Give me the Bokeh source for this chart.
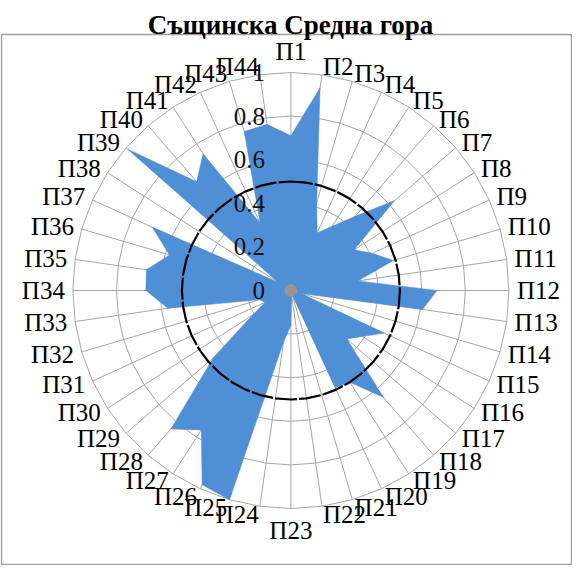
import numpy as np
from bokeh.plotting import figure
from bokeh.models import Range1d
from bokeh.core.properties import value
from bokeh.embed import file_html
from bokeh.resources import INLINE

# ---------------- data ----------------
title_text = "Същинска Средна гора"
categories = ["П1", "П2", "П3", "П4", "П5", "П6", "П7", "П8", "П9", "П10",
              "П11", "П12", "П13", "П14", "П15", "П16", "П17", "П18", "П19", "П20",
              "П21", "П22", "П23", "П24", "П25", "П26", "П27", "П28", "П29", "П30",
              "П31", "П32", "П33", "П34", "П35", "П36", "П37", "П38", "П39", "П40",
              "П41", "П42", "П43", "П44"]
values = [0.71, 0.94, 0.42, 0.29, 0.35, 0.45, 0.63, 0.345, 0.41, 0.49,
          0.31, 0.67, 0.61, 0.05, 0.47, 0.39, 0.34, 0.65, 0.50, 0.49,
          0.02, 0.02, 0.16, 0.24, 1.00, 0.98, 0.76, 0.84, 0.47, 0.21,
          0.13, 0.15, 0.57, 0.665, 0.67, 0.58, 0.70, 0.07, 0.99, 0.66,
          0.745, 0.34, 0.76, 0.77]
threshold = 0.5
ring_ticks = [0.2, 0.4, 0.6, 0.8, 1.0]
tick_labels = ["0", "0.2", "0.4", "0.6", "0.8", "1"]
tick_values = [0.0, 0.2, 0.4, 0.6, 0.8, 1.0]

# ---------------- layout ----------------
W, H = 572, 565
SCALE = 218.0            # pixels per unit radius
CX, CY = 290.4, 290.0    # centre in canvas pixels
x0 = -CX / SCALE
x1 = (W - CX) / SCALE
y1 = CY / SCALE
y0 = -(H - CY) / SCALE


def px_x(px):
    return x0 + px / SCALE


def px_y(py):
    return y1 - py / SCALE


N = len(categories)
theta = np.arange(N) * 2 * np.pi / N
S = np.sin(theta)
C = np.cos(theta)

FONT = value("Liberation Serif")
GRID = "#a6a6a6"
BLUE = "#4f8fd6"

p = figure(width=W, height=H, output_backend="svg", toolbar_location=None,
           x_range=Range1d(x0, x1), y_range=Range1d(y0, y1),
           x_axis_type=None, y_axis_type=None, min_border=0,
           background_fill_color="white", border_fill_color="white")
p.grid.visible = False
p.outline_line_color = None

# chart border box
p.quad(left=[px_x(1)], right=[px_x(W - 1)], top=[px_y(34)], bottom=[px_y(H - 1)],
       fill_color=None, line_color="#a0a0a0", line_width=1.5)

# title
p.text(x=[px_x(290)], y=[px_y(24)], text=[title_text], text_font=FONT,
       text_font_size="27px", text_font_style="bold", text_align="center",
       text_baseline="alphabetic", text_color="black")

# grid rings and spokes
ring_xs = [list(np.append(r * S, r * S[0])) for r in ring_ticks]
ring_ys = [list(np.append(r * C, r * C[0])) for r in ring_ticks]
p.multi_line(xs=ring_xs, ys=ring_ys, line_color=GRID, line_width=1)
spoke_xs = [[0, S[i]] for i in range(N)]
spoke_ys = [[0, C[i]] for i in range(N)]
p.multi_line(xs=spoke_xs, ys=spoke_ys, line_color=GRID, line_width=1)

# data polygon
v = np.array(values)
p.patch(x=list(v * S), y=list(v * C), fill_color=BLUE, line_color=BLUE, line_width=0.5)

# threshold ring
p.line(x=list(np.append(threshold * S, threshold * S[0])),
       y=list(np.append(threshold * C, threshold * C[0])),
       line_color="black", line_width=2.2, line_dash="22 2")

# centre blob
p.scatter(x=[0], y=[0], size=13, marker="circle", fill_color="#a3928b",
          line_color=None, fill_alpha=0.9)

# radial tick labels
p.text(x=[px_x(CX - 26)] * len(tick_values), y=tick_values, text=tick_labels,
       text_font=FONT, text_font_size="25px", text_align="right",
       text_baseline="middle", text_color="#111111")

# category labels
RL = 226.0 / SCALE
groups = {"left": ([], [], []), "right": ([], [], []), "top": ([], [], []), "bottom": ([], [], [])}
for i, lab in enumerate(categories):
    ax, ay = RL * S[i], RL * C[i]
    if abs(S[i]) < 1e-6:
        key = "top" if C[i] > 0 else "bottom"
    else:
        key = "left" if S[i] > 0 else "right"
    groups[key][0].append(ax)
    groups[key][1].append(ay)
    groups[key][2].append(lab)

specs = {"left": ("left", "middle"), "right": ("right", "middle"),
         "top": ("center", "bottom"), "bottom": ("center", "top")}
for key, (xs, ys, ts) in groups.items():
    if not xs:
        continue
    al, bl = specs[key]
    p.text(x=xs, y=ys, text=ts, text_font=FONT, text_font_size="25px",
           text_align=al, text_baseline=bl, text_color="black")

open("out.html", "w").write(file_html(p, INLINE))
